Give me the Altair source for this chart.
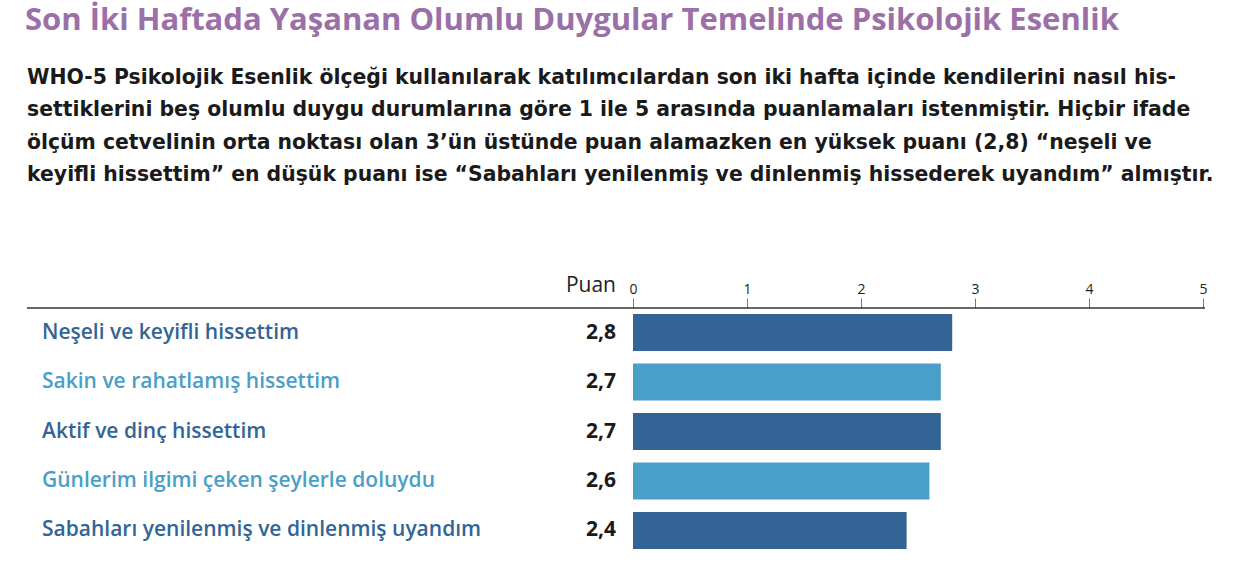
import altair as alt
import pandas as pd

categories = [
    "Neşeli ve keyifli hissettim",
    "Sakin ve rahatlamış hissettim",
    "Aktif ve dinç hissettim",
    "Günlerim ilgimi çeken şeylerle doluydu",
    "Sabahları yenilenmiş ve dinlenmiş uyandım",
]
values = [2.8, 2.7, 2.7, 2.6, 2.4]
shade = ["koyu", "açık", "koyu", "açık", "koyu"]
ticks = [0, 1, 2, 3, 4, 5]

title_text = "Son İki Haftada Yaşanan Olumlu Duygular Temelinde Psikolojik Esenlik"
subtitle_lines = [
    "WHO-5 Psikolojik Esenlik ölçeği kullanılarak katılımcılardan son iki hafta içinde kendilerini nasıl his-",
    "settiklerini beş olumlu duygu durumlarına göre 1 ile 5 arasında puanlamaları istenmiştir. Hiçbir ifade",
    "ölçüm cetvelinin orta noktası olan 3’ün üstünde puan alamazken en yüksek puanı (2,8) “neşeli ve",
    "keyifli hissettim” en düşük puanı ise “Sabahları yenilenmiş ve dinlenmiş hissederek uyandım” almıştır.",
]
axis_label = "Puan"

df = pd.DataFrame({"kategori": categories, "puan": values, "ton": shade})

FONT = "Open Sans"
bar_scale = alt.Scale(domain=["koyu", "açık"], range=["#326596", "#4a9fc8"])
text_scale = alt.Scale(domain=["koyu", "açık"], range=["#2e5d8e", "#4a9fca"])

y_enc = alt.Y("kategori:N", sort=categories, axis=None,
              scale=alt.Scale(paddingInner=0.25, paddingOuter=0.12))

base = alt.Chart(df)

bars = base.mark_bar().encode(
    y=y_enc,
    x=alt.X("puan:Q", scale=alt.Scale(domain=[0, 5]),
            axis=alt.Axis(orient="top", values=ticks, title=None, grid=False,
                          domain=False, tickSize=10, tickColor="#777777",
                          labelFont=FONT, labelFontSize=14, labelColor="#222222",
                          labelPadding=2, labelAlign="center")),
    color=alt.Color("ton:N", scale=bar_scale, legend=None),
)

vals = base.transform_calculate(
    lbl="replace(format(datum.puan, '.1f'), '.', ',')"
).mark_text(align="right", baseline="middle", font=FONT, fontSize=21,
            fontWeight="bold", color="#1a1a1a").encode(
    y=y_enc, x=alt.value(-17), text="lbl:N"
)

cats = base.mark_text(align="left", baseline="middle", font=FONT, fontSize=21,
                      fontWeight=600).encode(
    y=y_enc, x=alt.value(-591), text="kategori:N",
    color=alt.Color("ton:N", scale=text_scale, legend=None),
)

rule = alt.Chart(pd.DataFrame({"a": [0]})).mark_rule(color="#333333", strokeWidth=1.5).encode(
    x=alt.value(-606), x2=alt.value(572), y=alt.value(0)
)

puan = alt.Chart(pd.DataFrame({"t": [axis_label]})).mark_text(
    align="right", baseline="middle", font=FONT, fontSize=21, color="#222222"
).encode(x=alt.value(-17), y=alt.value(-22), text="t:N")

title = alt.Chart(pd.DataFrame({"t": [title_text]})).mark_text(
    align="left", baseline="middle", font=FONT, fontSize=31, fontWeight="bold",
    color="#9b70a8"
).encode(x=alt.value(-608), y=alt.value(-287), text="t:N")

sub_df = pd.DataFrame({"t": subtitle_lines, "i": list(range(len(subtitle_lines)))})
subtitle = alt.Chart(sub_df).transform_calculate(
    yy="-230 + datum.i * 32.3"
).mark_text(
    align="left", baseline="middle", font="DejaVu Sans", fontSize=20.4, fontWeight="bold",
    color="#1a1a1a"
).encode(x=alt.value(-606), y=alt.Y("yy:Q", scale=None), text="t:N")

chart = alt.layer(bars, vals, cats, rule, puan, title, subtitle).properties(
    width=570, height=247,
    padding={"left": 633, "top": 308, "right": 31, "bottom": 11},
    autosize=alt.AutoSizeParams(type="none"),
    background="white",
).configure_view(strokeWidth=0, stroke=None)

chart.save("out.html", embed_options={"renderer": "svg", "actions": False})
